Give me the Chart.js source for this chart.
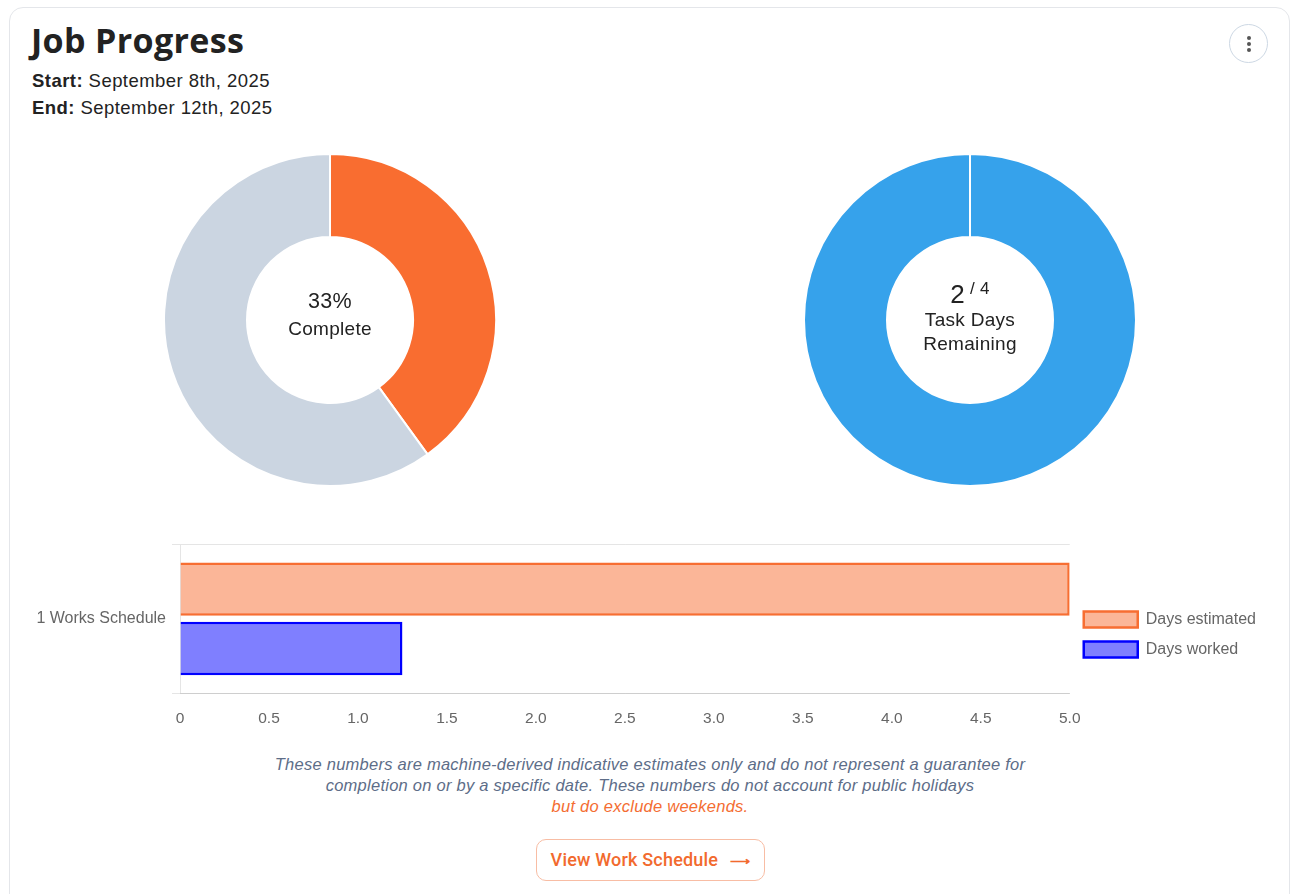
<!DOCTYPE html>
<html>
<head>
<meta charset="utf-8">
<script src="https://cdn.jsdelivr.net/npm/chart.js@4.4.1/dist/chart.umd.min.js"></script>
<style>
  html, body { margin: 0; padding: 0; background: #fff; width: 1292px; height: 894px; overflow: hidden; }
  body { position: relative; font-family: 'Liberation Sans', Arial, sans-serif; color: #222; }
  .card { position: absolute; left: 9px; top: 7px; width: 1281px; height: 920px; border: 1.5px solid #e4e6ea; border-radius: 14px; box-sizing: border-box; }
  h1 { position: absolute; left: 31px; top: 19px; margin: 0; font-family: 'Open Sans', sans-serif; font-weight: 700; font-size: 34px; line-height: 42px; color: #222; letter-spacing: 0.35px; }
  .meta { position: absolute; left: 32px; font-size: 18.5px; line-height: 22px; color: #222; letter-spacing: 0.45px; }
  .meta b { font-weight: 700; }
  .menu { position: absolute; left: 1229px; top: 24px; width: 39px; height: 39px; border: 1.5px solid #cdd8e4; border-radius: 50%; box-sizing: border-box; }
  .menu span { position: absolute; left: 16.5px; width: 4px; height: 4px; border-radius: 50%; background: #555; }
  canvas { position: absolute; }
  .center { position: absolute; text-align: center; color: #222; font-family: 'Liberation Sans', Arial, sans-serif; letter-spacing: 0.3px; }
  .note { position: absolute; left: 0; width: 1300px; top: 754px; text-align: center; font-style: italic; font-size: 16.5px; line-height: 21px; color: #5d6d88; letter-spacing: 0.25px; }
  .note .o { color: #f46d32; }
  .btn { position: absolute; left: 536px; top: 839px; width: 229px; height: 42px; border: 1.5px solid #f8bda4; border-radius: 10px; box-sizing: border-box; color: #f26a2e; font-family: Roboto, 'Liberation Sans', sans-serif; font-size: 18px; font-weight: 500; text-align: center; line-height: 39px; letter-spacing: 0.2px; }
  .btn .arr { font-size: 14px; font-weight: 700; margin-left: 12px; }
</style>
</head>
<body>
<div class="card"></div>
<h1>Job Progress</h1>
<div class="meta" style="top:70px"><b>Start:</b> September 8th, 2025</div>
<div class="meta" style="top:97px"><b>End:</b> September 12th, 2025</div>
<div class="menu"><span style="top:11px"></span><span style="top:17px"></span><span style="top:23px"></span></div>

<canvas id="donut1" width="334" height="334" style="left:163px; top:153px; width:334px; height:334px"></canvas>
<canvas id="donut2" width="334" height="334" style="left:803px; top:153px; width:334px; height:334px"></canvas>

<div class="center" style="left:230px; width:200px; top:288px; font-size:21.5px; line-height:26px;">33%</div>
<div class="center" style="left:230px; width:200px; top:317px; font-size:19px; line-height:23px;">Complete</div>

<div class="center" style="left:870px; width:200px; top:273px; font-size:26px; line-height:31px;">2<sup style="font-size:17px; vertical-align: 9px; margin-left:5px;">/ 4</sup></div>
<div class="center" style="left:870px; width:200px; top:308px; font-size:19px; line-height:23px;">Task Days</div>
<div class="center" style="left:870px; width:200px; top:332px; font-size:19px; line-height:23px;">Remaining</div>

<canvas id="bars" width="1292" height="204" style="left:0px; top:529px; width:1292px; height:204px"></canvas>

<div class="note">These numbers are machine-derived indicative estimates only and do not represent a guarantee for<br>completion on or by a specific date. These numbers do not account for public holidays<br><span class="o">but do exclude weekends.</span></div>
<div class="btn">View Work Schedule<span class="arr">&#x27F6;</span></div>

<script>
// ---- data ----
const progressLabels = ['Completed', 'Remaining'];
const progressValues = [2, 3];
const progressColors = ['#f96d30', '#cbd5e1'];

const daysLabels = ['Task days remaining'];
const daysValues = [4];
const daysColors = ['#36a2eb'];

const scheduleCategories = ['1 Works Schedule'];
const daysEstimated = [5];
const daysWorked = [1.25];
const xTickMax = 5;
const xTickStep = 0.5;

Chart.defaults.font.family = "'Liberation Sans', Arial, sans-serif";
Chart.defaults.font.size = 15.5;
Chart.defaults.color = '#666';

function donut(id, labels, values, colors) {
  return new Chart(document.getElementById(id), {
    type: 'doughnut',
    data: { labels: labels, datasets: [{ data: values, backgroundColor: colors, borderColor: '#fff', borderWidth: 2 }] },
    options: {
      responsive: false, animation: false, cutout: '50%',
      layout: { padding: 0 },
      plugins: { legend: { display: false }, tooltip: { enabled: false } }
    }
  });
}
donut('donut1', progressLabels, progressValues, progressColors);
donut('donut2', daysLabels, daysValues, daysColors);

new Chart(document.getElementById('bars'), {
  type: 'bar',
  data: {
    labels: scheduleCategories,
    datasets: [
      { label: 'Days estimated', data: daysEstimated, backgroundColor: 'rgba(247,110,50,0.5)', borderColor: '#f76e32', borderWidth: 2.5 },
      { label: 'Days worked', data: daysWorked, backgroundColor: 'rgba(0,0,255,0.5)', borderColor: '#0000ff', borderWidth: 2.5 }
    ]
  },
  options: {
    indexAxis: 'y', responsive: false, animation: false,
    layout: { padding: { top: 7, right: 26, left: 0, bottom: 0 } },
    scales: {
      x: {
        min: 0, max: xTickMax,
        ticks: { stepSize: xTickStep, padding: 16, color: '#666', font: { size: 15.5 } },
        grid: { drawOnChartArea: false, drawTicks: false },
        border: { display: true, color: 'rgba(0,0,0,0.1)' },
        afterFit: function (s) { s.height = 40; }
      },
      y: {
        ticks: { padding: 6, color: '#666', font: { size: 16 } },
        grid: { color: 'rgba(0,0,0,0.1)', tickLength: 8 },
        border: { color: 'rgba(0,0,0,0.1)' },
        afterFit: function (s) { s.width = 180; }
      }
    },
    plugins: {
      legend: { position: 'right', labels: { boxWidth: 54, boxHeight: 16, padding: 14, color: '#666', font: { size: 16 } } },
      tooltip: { enabled: false }
    }
  }
});
</script>
</body>
</html>
